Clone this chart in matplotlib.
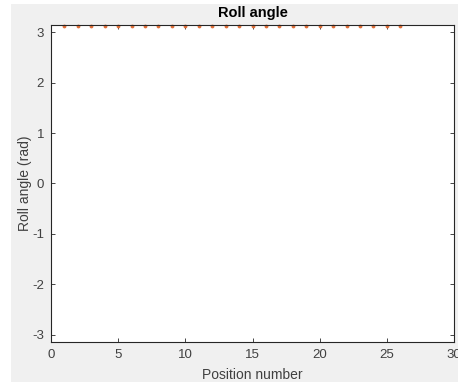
import matplotlib.pyplot as plt
from matplotlib.patches import Rectangle
import math

plt.rcParams['font.family'] = ['Liberation Sans', 'DejaVu Sans']
plt.rcParams['axes.unicode_minus'] = False

# roll angle measured at each position
positions = list(range(1, 27))
roll = [3.12, 3.12, 3.12, 3.12, 3.12, 3.12, 3.12, 3.12, 3.12, 3.12, 3.12, 3.12, 3.12,
        3.12, 3.12, 3.12, 3.12, 3.12, 3.12, 3.12, 3.12, 3.12, 3.12, 3.12, 3.12, 3.12]
xticks = [0, 5, 10, 15, 20, 25, 30]
yticks = [-3, -2, -1, 0, 1, 2, 3]

ink = '#262626'
label_ink = '#404040'

fig = plt.figure(figsize=(4.58, 3.85), dpi=100, facecolor='white')
# gray window background, drawn behind the axes
fig.patches.append(Rectangle((11 / 458, 3 / 385), 1, 378 / 385, transform=fig.transFigure,
                             facecolor='#f0f0f0', edgecolor='none', zorder=-10))

ax = fig.add_axes([51 / 458, 43 / 385, 403 / 458, 317 / 385])
ax.plot(positions, roll, '.', color='#E0703A', markersize=5.5, markeredgewidth=0,
        clip_on=False)

ax.set_xlim(0, 30)
ax.set_ylim(-math.pi, math.pi)
ax.set_xticks(xticks)
ax.set_yticks(yticks)
ax.tick_params(direction='in', length=3, width=0.6, color=ink, labelcolor=label_ink,
               labelsize=9.5, top=True, right=True, pad=5)
for s in ax.spines.values():
    s.set_color(ink)
    s.set_linewidth(0.8)

ax.set_title('Roll angle', fontsize=10.5, fontweight='bold', color='black', pad=6)
ax.set_xlabel('Position number', fontsize=10, color=label_ink, labelpad=5)
ax.set_ylabel('Roll angle (rad)', fontsize=10, color=label_ink, labelpad=0)

fig.savefig('out.png', dpi=100, facecolor='white')
